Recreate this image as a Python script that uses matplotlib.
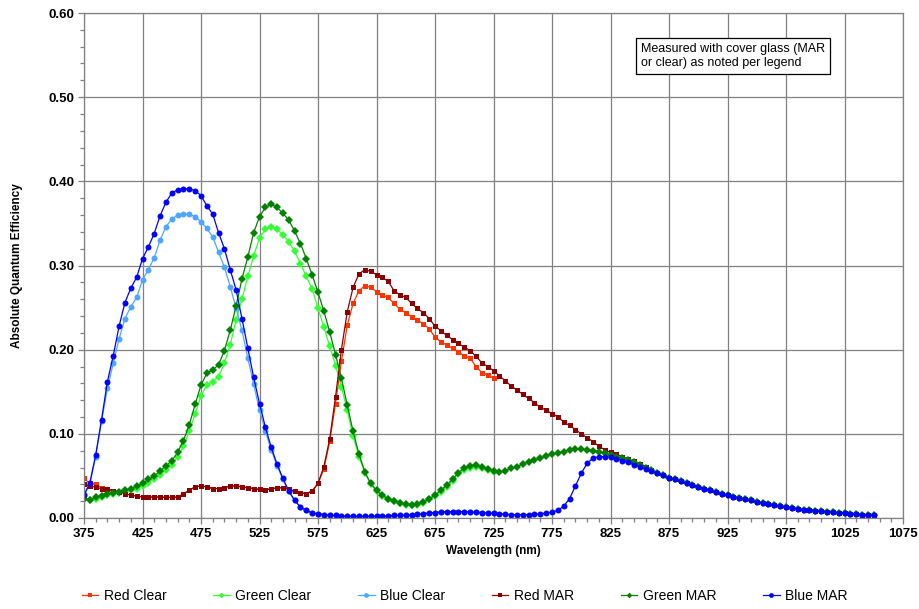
import numpy as np
import matplotlib
matplotlib.use("Agg")
import matplotlib.pyplot as plt
from matplotlib.ticker import MultipleLocator

plt.rcParams['font.family'] = ['Liberation Sans', 'DejaVu Sans']

wl_clear = np.arange(375, 730, 5)
wl_mar = np.arange(375, 1055, 5)

red_clear = [
    0.047, 0.041, 0.040, 0.036, 0.034, 0.0325, 0.031, 0.029, 0.027, 0.026,
    0.025, 0.025, 0.025, 0.025, 0.0245, 0.0245, 0.025, 0.0285, 0.033, 0.037,
    0.038, 0.037, 0.035, 0.035, 0.036, 0.038, 0.038, 0.037, 0.036, 0.035,
    0.034, 0.033, 0.035, 0.0356, 0.036, 0.034, 0.032, 0.030, 0.029, 0.032,
    0.041, 0.058, 0.091, 0.136, 0.186, 0.229, 0.255, 0.270, 0.276, 0.274,
    0.269, 0.265, 0.262, 0.255, 0.248, 0.244, 0.239, 0.235, 0.2305, 0.225,
    0.2147, 0.2095, 0.2055, 0.2015, 0.1976, 0.1925, 0.190, 0.180, 0.1727, 0.170,
    0.166]

green_clear = [
    0.022, 0.021, 0.023, 0.025, 0.027, 0.029, 0.030, 0.031, 0.033, 0.035,
    0.038, 0.042, 0.046, 0.051, 0.057, 0.063, 0.073, 0.085, 0.103, 0.124,
    0.145, 0.158, 0.162, 0.168, 0.184, 0.206, 0.235, 0.260, 0.287, 0.311,
    0.333, 0.343, 0.346, 0.343, 0.336, 0.328, 0.317, 0.302, 0.287, 0.272,
    0.249, 0.227, 0.204, 0.181, 0.156, 0.128, 0.097, 0.073, 0.054, 0.040,
    0.032, 0.026, 0.022, 0.020, 0.018, 0.016, 0.015, 0.016, 0.018, 0.022,
    0.026, 0.031, 0.037, 0.044, 0.052, 0.057, 0.060, 0.061, 0.059, 0.057,
    0.055]

blue_clear = [
    0.028, 0.040, 0.073, 0.115, 0.154, 0.184, 0.213, 0.237, 0.251, 0.262,
    0.283, 0.295, 0.309, 0.330, 0.346, 0.355, 0.360, 0.361, 0.361, 0.358,
    0.352, 0.344, 0.334, 0.316, 0.298, 0.275, 0.249, 0.223, 0.190, 0.159,
    0.128, 0.103, 0.081, 0.062, 0.046, 0.032, 0.021, 0.013, 0.009, 0.006,
    0.005, 0.004, 0.003, 0.003, 0.0025, 0.002, 0.002, 0.002, 0.002, 0.002,
    0.002, 0.002, 0.0025, 0.003, 0.003, 0.0035, 0.004, 0.0045, 0.005, 0.006,
    0.0065, 0.007, 0.0075, 0.0075, 0.0075, 0.0075, 0.007, 0.007, 0.0065, 0.006,
    0.0055]

red_mar = [
    0.040, 0.038, 0.0365, 0.035, 0.034, 0.0325, 0.031, 0.029, 0.027, 0.026,
    0.025, 0.025, 0.025, 0.025, 0.0245, 0.0245, 0.025, 0.0285, 0.033, 0.037,
    0.038, 0.037, 0.035, 0.035, 0.036, 0.038, 0.038, 0.037, 0.036, 0.035,
    0.034, 0.033, 0.035, 0.0356, 0.036, 0.034, 0.032, 0.030, 0.029, 0.032,
    0.041, 0.061, 0.094, 0.144, 0.200, 0.245, 0.274, 0.290, 0.295, 0.293,
    0.289, 0.286, 0.281, 0.270, 0.265, 0.262, 0.255, 0.249, 0.244, 0.237,
    0.228, 0.2225, 0.217, 0.212, 0.2075, 0.203, 0.199, 0.192, 0.1845, 0.180,
    0.175, 0.169, 0.163, 0.157, 0.152, 0.147, 0.142, 0.137, 0.1315, 0.128,
    0.124, 0.120, 0.114, 0.110, 0.105, 0.100, 0.0955, 0.0907, 0.0855, 0.081,
    0.078, 0.0756, 0.073, 0.070, 0.0677, 0.0638, 0.061, 0.057, 0.054, 0.051,
    0.048, 0.046, 0.044, 0.041, 0.039, 0.037, 0.035, 0.033, 0.031, 0.029,
    0.027, 0.025, 0.024, 0.022, 0.021, 0.019, 0.018, 0.017, 0.015, 0.014,
    0.013, 0.012, 0.011, 0.010, 0.0095, 0.0088, 0.008, 0.0074, 0.0068, 0.0062,
    0.0057, 0.0052, 0.0046, 0.0041, 0.0036, 0.0032]

green_mar = [
    0.023, 0.021, 0.025, 0.026, 0.0285, 0.030, 0.031, 0.033, 0.035, 0.038,
    0.041, 0.046, 0.050, 0.056, 0.062, 0.068, 0.078, 0.092, 0.111, 0.135,
    0.158, 0.172, 0.176, 0.182, 0.199, 0.223, 0.252, 0.284, 0.310, 0.339,
    0.358, 0.369, 0.373, 0.369, 0.362, 0.354, 0.341, 0.326, 0.308, 0.289,
    0.268, 0.246, 0.221, 0.194, 0.166, 0.134, 0.103, 0.076, 0.055, 0.041,
    0.033, 0.027, 0.023, 0.0205, 0.018, 0.0166, 0.0155, 0.0166, 0.019, 0.023,
    0.027, 0.033, 0.039, 0.046, 0.054, 0.059, 0.062, 0.063, 0.061, 0.058,
    0.056, 0.055, 0.056, 0.059, 0.061, 0.064, 0.067, 0.069, 0.071, 0.074,
    0.076, 0.077, 0.079, 0.081, 0.0816, 0.0816, 0.081, 0.080, 0.079, 0.077,
    0.075, 0.073, 0.071, 0.069, 0.0665, 0.063, 0.060, 0.057, 0.054, 0.051,
    0.048, 0.046, 0.044, 0.041, 0.039, 0.037, 0.035, 0.033, 0.031, 0.029,
    0.027, 0.025, 0.024, 0.022, 0.021, 0.019, 0.018, 0.017, 0.015, 0.014,
    0.013, 0.012, 0.011, 0.010, 0.0095, 0.0088, 0.008, 0.0074, 0.0068, 0.0062,
    0.0057, 0.0052, 0.0046, 0.0041, 0.0036, 0.0032]

blue_mar = [
    0.027, 0.042, 0.075, 0.117, 0.162, 0.193, 0.228, 0.256, 0.273, 0.286,
    0.308, 0.322, 0.338, 0.359, 0.375, 0.386, 0.390, 0.391, 0.391, 0.389,
    0.383, 0.371, 0.361, 0.339, 0.320, 0.295, 0.271, 0.237, 0.202, 0.167,
    0.136, 0.108, 0.084, 0.064, 0.047, 0.032, 0.021, 0.013, 0.009, 0.006,
    0.005, 0.004, 0.003, 0.003, 0.0025, 0.002, 0.002, 0.002, 0.002, 0.002,
    0.002, 0.002, 0.0025, 0.003, 0.003, 0.0035, 0.004, 0.0045, 0.005, 0.006,
    0.0065, 0.007, 0.0075, 0.0075, 0.0075, 0.0075, 0.007, 0.007, 0.0065, 0.006,
    0.0055, 0.005, 0.0045, 0.004, 0.004, 0.004, 0.004, 0.0045, 0.005, 0.006,
    0.007, 0.009, 0.014, 0.023, 0.038, 0.053, 0.065, 0.071, 0.073, 0.073,
    0.072, 0.070, 0.068, 0.066, 0.063, 0.061, 0.058, 0.056, 0.053, 0.051,
    0.048, 0.046, 0.044, 0.041, 0.039, 0.037, 0.035, 0.033, 0.031, 0.029,
    0.027, 0.025, 0.024, 0.022, 0.021, 0.019, 0.018, 0.017, 0.015, 0.014,
    0.013, 0.012, 0.011, 0.010, 0.0095, 0.0088, 0.008, 0.0074, 0.0068, 0.0062,
    0.0057, 0.0052, 0.0046, 0.0041, 0.0036, 0.0032]

x_ticks = [375, 425, 475, 525, 575, 625, 675, 725, 775, 825, 875, 925, 975, 1025, 1075]
y_ticks = [0.0, 0.1, 0.2, 0.3, 0.4, 0.5, 0.6]

series = [
    ("Red Clear", wl_clear, red_clear, "#FF3300", "s", 3.6),
    ("Green Clear", wl_clear, green_clear, "#33FF33", "D", 3.6),
    ("Blue Clear", wl_clear, blue_clear, "#4DA6FF", "o", 4.3),
    ("Red MAR", wl_mar, red_mar, "#8B0000", "s", 3.6),
    ("Green MAR", wl_mar, green_mar, "#008000", "D", 3.6),
    ("Blue MAR", wl_mar, blue_mar, "#0000FF", "o", 4.3),
]

fig = plt.figure(figsize=(9.2, 6.09), dpi=100)
ax = fig.add_axes([84/920, 1-518/609, (903-84)/920, (518-13)/609])

for name, x, y, c, m, ms in series:
    ax.plot(x, y, color=c, marker=m, markersize=ms, linewidth=0.9,
            markeredgewidth=0, label=name)

ax.set_xlim(375, 1075)
ax.set_ylim(0, 0.60)
ax.set_xticks(x_ticks)
ax.xaxis.set_minor_locator(MultipleLocator(10, offset=5))
ax.set_yticks(y_ticks)
ax.set_yticklabels([f"{v:.2f}" for v in y_ticks])
ax.yaxis.set_minor_locator(MultipleLocator(0.02))
ax.grid(True, which='major', color='#808080', linewidth=0.9)
ax.set_axisbelow(True)
for s in ax.spines.values():
    s.set_color('#808080')
    s.set_linewidth(0.9)
ax.tick_params(which='both', direction='out', color='#808080', width=0.9)
ax.tick_params(which='major', length=4, labelsize=9.5, pad=3)
ax.tick_params(which='minor', length=3)
for lab in ax.get_xticklabels() + ax.get_yticklabels():
    lab.set_fontweight('bold')

ax.set_xlabel("Wavelength (nm)", fontsize=8.5, fontweight='bold', labelpad=4)
ax.set_ylabel("Absolute Quantum Efficiency", fontsize=8.5, fontweight='bold', labelpad=18)

fig.text(641/920, 1-43/609, "Measured with cover glass (MAR\nor clear) as noted per legend",
         fontsize=9, ha='left', va='top', linespacing=1.2,
         bbox=dict(boxstyle='square,pad=0.4', fc='white', ec='black', lw=0.9))

fig.legend(loc='center', bbox_to_anchor=(0.505, 1-596/609), ncol=6, frameon=False,
           fontsize=10, handlelength=1.2, handletextpad=0.4, columnspacing=3.35,
           markerscale=0.8)

fig.savefig("out.png", dpi=100)
